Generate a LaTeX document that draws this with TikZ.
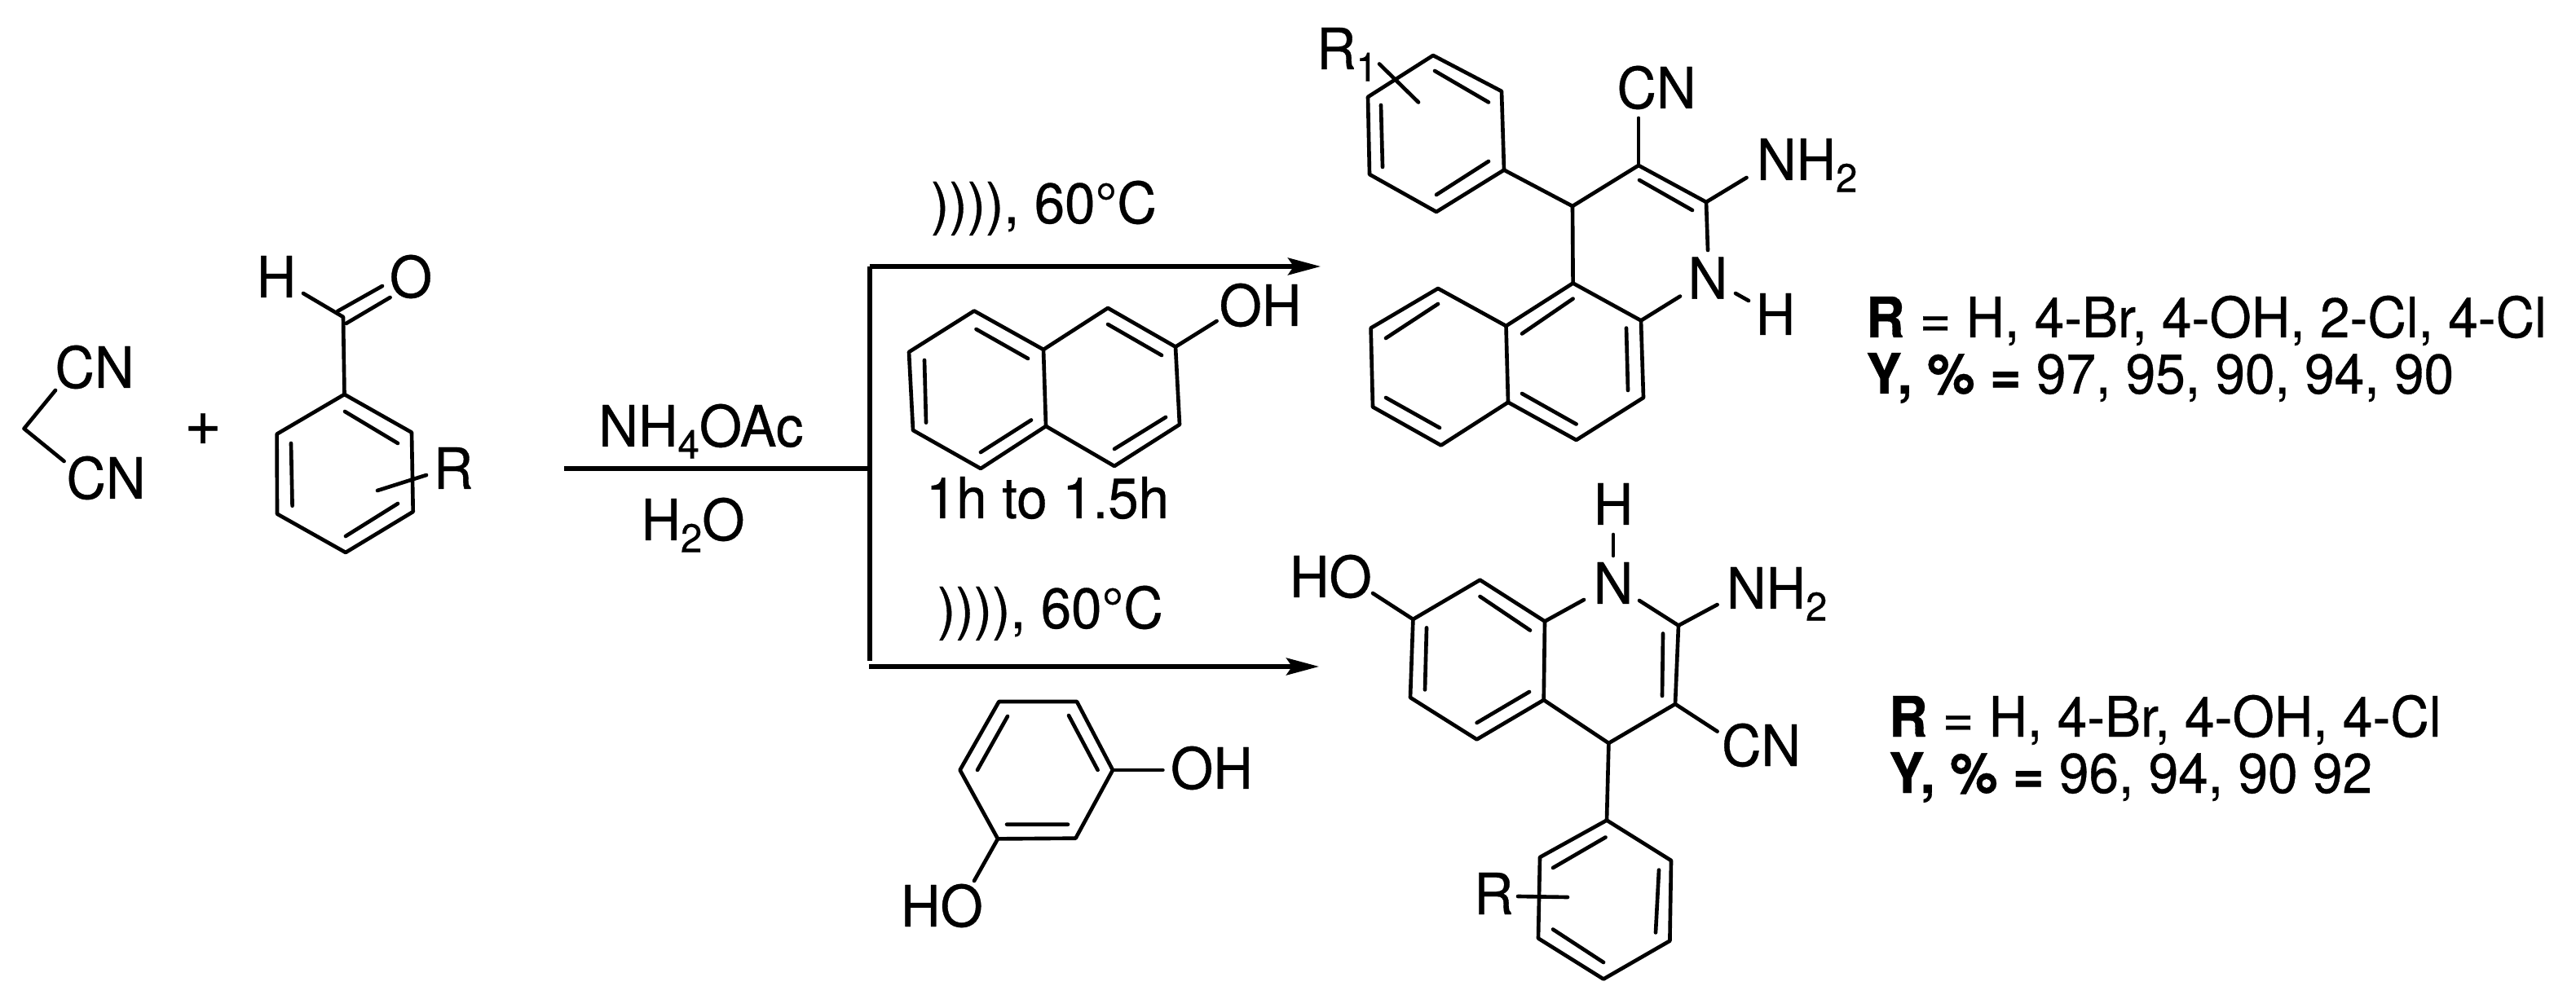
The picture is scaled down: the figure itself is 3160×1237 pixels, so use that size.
\documentclass[tikz,border=0pt]{standalone}
\usepackage{fontspec}
\setmainfont[FakeStretch=0.96,FakeBold=0.5]{TeX Gyre Heros}
\usetikzlibrary{arrows.meta}
\newcommand{\sbs}[1]{\raisebox{-0.21em}{\fontsize{14}{14}\selectfont #1}}
\tikzset{
  bond/.style={line width=1.32pt,line cap=round,line join=round},
  rule/.style={line width=1.45pt},
  rxnarrow/.style={line width=1.45pt,-{Stealth[length=0.40cm,width=0.21cm,inset=0.07cm]}},
  lab/.style={inner sep=0pt,outer sep=0pt,anchor=base west,font=\fontsize{19.9}{22}\selectfont},
  labc/.style={lab,anchor=base},
  note/.style={lab,font=\fontsize{19.5}{22}\selectfont}
}
\begin{document}
\begin{tikzpicture}[x=0.01cm,y=-0.01cm]
\useasboundingbox (0,0) rectangle (3160,1237);
% malononitrile
\draw[bond] (68,479) -- (29.5,526) -- (78.6,566);
\node[labc] (cn1) at (116,476) {CN};
\node[labc] (cn2) at (130,612) {CN};
\node[labc,font=\fontsize{23}{24}\selectfont] (plus) at (249,546) {+};
% benzaldehyde
\draw[bond] (422.5,484) -- (505,530.7) -- (506.7,628) -- (424,678) -- (340,630.7) -- (339.6,532.7) -- cycle;
\draw[bond] (423,505) -- (488,544) (357,544) -- (358.6,620.7) (488,618) -- (424,658);
\draw[bond] (422.5,484) -- (421,389) -- (372,360);
\draw[bond] (414,382) -- (469,351) (424.5,397) -- (478.6,365);
\draw[bond] (463,602) -- (523,583);
\node[labc] (ah) at (339,365) {H};
\node[labc] (ao) at (504,365) {O};
\node[labc] (ar) at (556,600) {R};
% reagents
\node[labc] (nh4) at (860,548) {NH\sbs{4}OAc};
\node[labc] (h2o) at (850,663) {H\sbs{2}O};
\coordinate (s0) at (692,575);
\coordinate (s1) at (1067,575);
\coordinate (ft) at (1067,327);
\coordinate (fb) at (1067,811);
\coordinate (a1) at (1620,327);
\coordinate (a2s) at (1066,818);
\coordinate (a2) at (1618,818);
\draw[rule] (s0) -- (s1);
\draw[rule] (fb) -- (ft);
\draw[rxnarrow] (ft) -- (a1);
\draw[rxnarrow] (a2s) -- (a2);
\node[lab] (c1) at (1142,274) {)))), 60°C};
\node[lab] (c2) at (1150,771) {)))), 60°C};
% naphthol
\draw[bond] (1195,381.5) -- (1280,429) -- (1283,523) -- (1203,575) -- (1120,528) -- (1115,432) -- cycle;
\draw[bond] (1280,429) -- (1359,378) -- (1442,425.6) -- (1447,521) -- (1367,572) -- (1283,523);
\draw[bond] (1197.5,404) -- (1261,440) (1134,442) -- (1136,518.6) (1265,515.5) -- (1203,555);
\draw[bond] (1359,398) -- (1425,436) (1430,512) -- (1367,551);
\draw[bond] (1442,425.6) -- (1492.6,394);
\node[labc] (noh) at (1546,400) {OH};
\node[labc] (time) at (1285,636) {1h to 1.5h};
% product 1
\draw[bond] (1758,68) -- (1842,112) -- (1845,208.6) -- (1762,260) -- (1680,214) -- (1678,119) -- cycle;
\draw[bond] (1760,87) -- (1826,125.5) (1694,129) -- (1696,205) (1826,198) -- (1762,239);
\draw[bond] (1692,78.5) -- (1740,125.5);
\node[lab] (r1) at (1615,85) {R\sbs{1}};
\draw[bond] (1845,208.6) -- (1929,253) -- (2010,203) -- (2093,248);
\draw[bond] (2010,203) -- (2010,145);
\draw[bond] (2011,221) -- (2076,258);
\draw[bond] (2093,248) -- (2142.5,218);
\draw[bond] (2093,248) -- (2095,307);
\draw[bond] (1929,253) -- (1929.6,347.5);
\node[labc] (p1cn) at (2032,133) {CN};
\node[lab] (p1nh2) at (2155,221) {NH\sbs{2}};
\node[labc] (p1n) at (2095,366.6) {N};
\node[labc] (p1h) at (2178,411) {H};
\draw[bond] (2129,360) -- (2145,369);
\draw[bond] (1929.6,347.5) -- (2013,393.4) -- (2016,488) -- (1933.6,540) -- (1850,493.7) -- (1847.5,400) -- cycle;
\draw[bond] (2013,393.4) -- (2061,363.6);
\draw[bond] (1847.5,400) -- (1764,354) -- (1681.6,402.6) -- (1684,499.4) -- (1767.7,546.5) -- (1850,493.7);
\draw[bond] (1929.6,366.6) -- (1867,409.5) (1995,402.6) -- (1997,479) (1933.6,520.5) -- (1867,483);
\draw[bond] (1764,373) -- (1700,415) (1700,488) -- (1766,525);
% conditions text 1
\node[note] (t1a) at (2289,414) {\textbf{R} = H, 4-Br, 4-OH, 2-Cl, 4-Cl};
\node[note] (t1b) at (2289,483) {\textbf{Y, \% =} 97, 95, 90, 94, 90};
% product 2
\node[labc] (p2h) at (1979,644) {H};
\draw[bond] (1979,656) -- (1979,682);
\node[labc] (p2n) at (1979,741) {N};
\node[lab] (p2ho) at (1582,733) {HO};
\draw[bond] (1684,728) -- (1733.4,760);
\draw[bond] (1733.4,760) -- (1815.5,711.7) -- (1895,762.5) -- (1893.7,859) -- (1811.6,907.4) -- (1730,856) -- cycle;
\draw[bond] (1815.5,732) -- (1877,773.5) (1750,770.4) -- (1748,846.4) (1876,849) -- (1811.6,887);
\draw[bond] (1895,762.5) -- (1943,736);
\draw[bond] (2011,737) -- (2059,767.6) -- (2055,864) -- (1973.4,912) -- (1893.7,859);
\draw[bond] (2059,767.6) -- (2106.6,742);
\node[lab] (p2nh2) at (2118,747) {NH\sbs{2}};
\draw[bond] (2040,777.5) -- (2039,854);
\draw[bond] (2055,864) -- (2106.6,897.6);
\node[lab] (p2cn) at (2112,940) {CN};
\draw[bond] (1973.4,912) -- (1971,1006.6);
\draw[bond] (1971,1006.6) -- (2050,1056) -- (2048.4,1154.6) -- (1967,1201.5) -- (1887,1151.5) -- (1889,1052) -- cycle;
\draw[bond] (1969.5,1027.5) -- (1905,1065) (2035,1067.6) -- (2031,1144.4) (1905,1140.5) -- (1967,1181);
\draw[bond] (1862,1100) -- (1923,1101);
\node[lab] (p2r) at (1808,1122) {R};
% resorcinol
\draw[bond] (1225.4,861) -- (1321,861) -- (1365,945) -- (1319.5,1028.7) -- (1224,1029.4) -- (1177.6,945) -- cycle;
\draw[bond] (1311,878) -- (1346.6,945) (1236,879) -- (1199,945) (1235,1011.7) -- (1310,1011.7);
\draw[bond] (1365,945) -- (1426.4,945);
\draw[bond] (1224,1029.4) -- (1195,1081);
\node[lab] (roh) at (1436,968) {OH};
\node[lab] (rho) at (1105,1137) {HO};
% conditions text 2
\node[note] (t2a) at (2317,904) {\textbf{R} = H, 4-Br, 4-OH, 4-Cl};
\node[note] (t2b) at (2317,973) {\textbf{Y, \% =} 96, 94, 90 92};
\end{tikzpicture}
\end{document}
